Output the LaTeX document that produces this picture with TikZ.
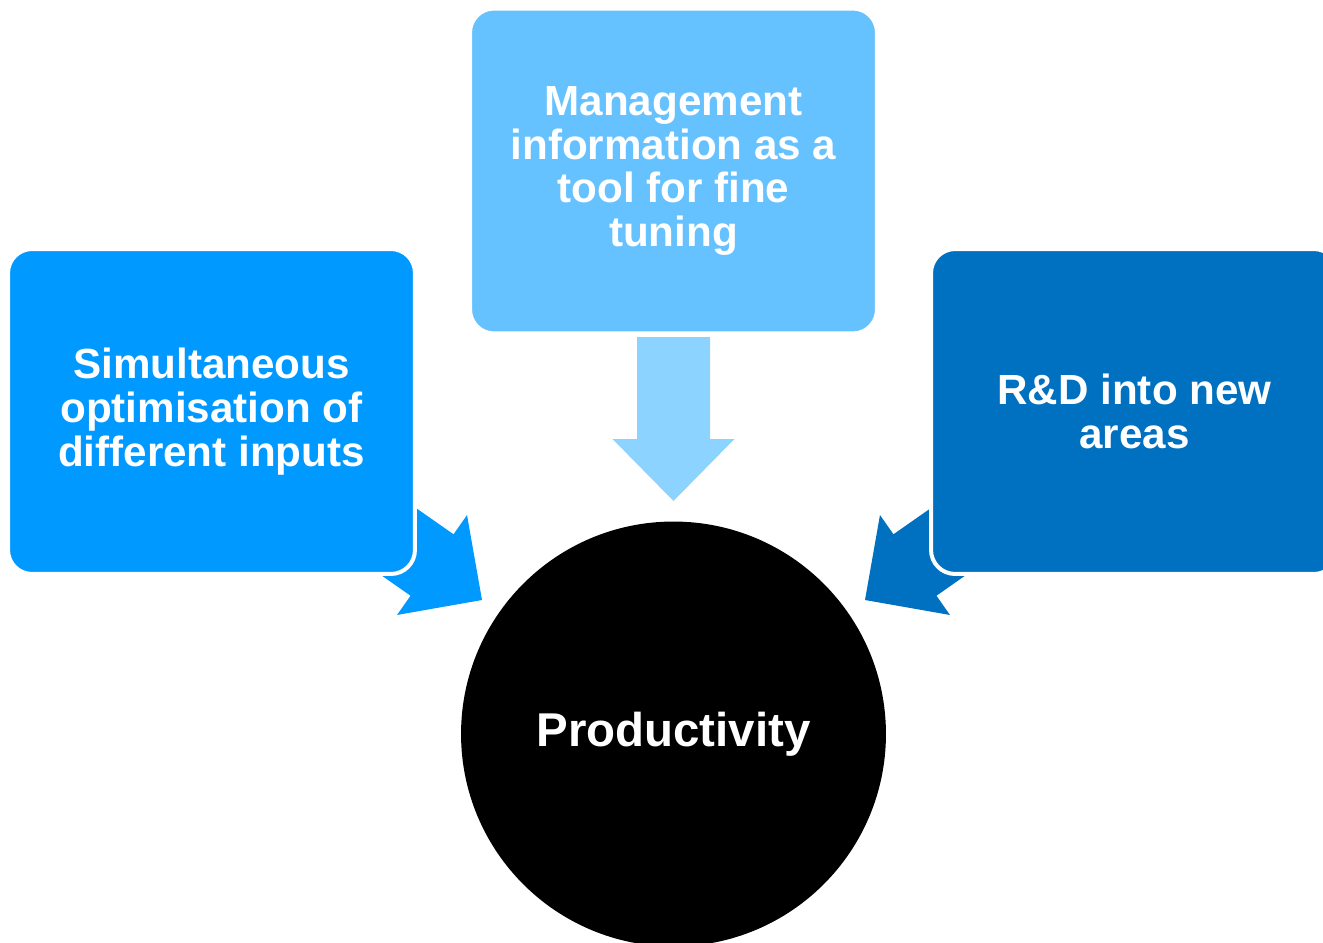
\documentclass[tikz,border=0pt]{standalone}
\usepackage{fontspec}
\setmainfont{Liberation Sans}
\usetikzlibrary{backgrounds}

\definecolor{inputblue}{HTML}{0099FF}
\definecolor{infoblue}{HTML}{66C1FF}
\definecolor{infoarrow}{HTML}{8DD3FF}
\definecolor{rdblue}{HTML}{0070C0}

\tikzset{
  box/.style={rectangle, rounded corners=0.48cm, draw=white, line width=0.08cm,
    minimum width=8.14cm, minimum height=6.5cm, inner sep=0pt, align=center,
    text=white, font=\bfseries\fontsize{24}{25}\selectfont},
  hub/.style={circle, fill=black, minimum size=8.5cm, inner sep=0pt,
    text=white, font=\bfseries\fontsize{27}{30}\selectfont},
}

\begin{document}
\begin{tikzpicture}[x=0.02cm, y=-0.02cm]
		\useasboundingbox (0,0) rectangle (1323,943);
		
		\node[box, fill=infoblue] (mgmt) at (673.5,171) {Management\\information as a\\tool for fine\\tuning};
		\node[box, fill=inputblue] (inputs) at (211.5,411.5) {Simultaneous\\optimisation of\\different inputs};
		\node[box, fill=rdblue] (rd) at (1134.5,411.5) {R\&D into new\\areas};
		\node[hub] (prod) at (673.5,734) {Productivity};
		
		\begin{scope}[on background layer]
		\fill[infoarrow, shift={(673.5,501)}, rotate=-90] (0,0) -- (-62,61) -- (-62,36.5) -- (-164,36.5) -- (-164,-36.5) -- (-62,-36.5) -- (-62,-61) -- cycle;
		\fill[inputblue, shift={(482,600)}, rotate=-35] (0,0) -- (-61,61) -- (-61,37.5) -- (-211,37.5) -- (-211,-37.5) -- (-61,-37.5) -- (-61,-61) -- cycle;
		\fill[rdblue, shift={(865,600)}, rotate=215] (0,0) -- (-61,61) -- (-61,37.5) -- (-211,37.5) -- (-211,-37.5) -- (-61,-37.5) -- (-61,-61) -- cycle;
		\end{scope}
\end{tikzpicture}
\end{document}
